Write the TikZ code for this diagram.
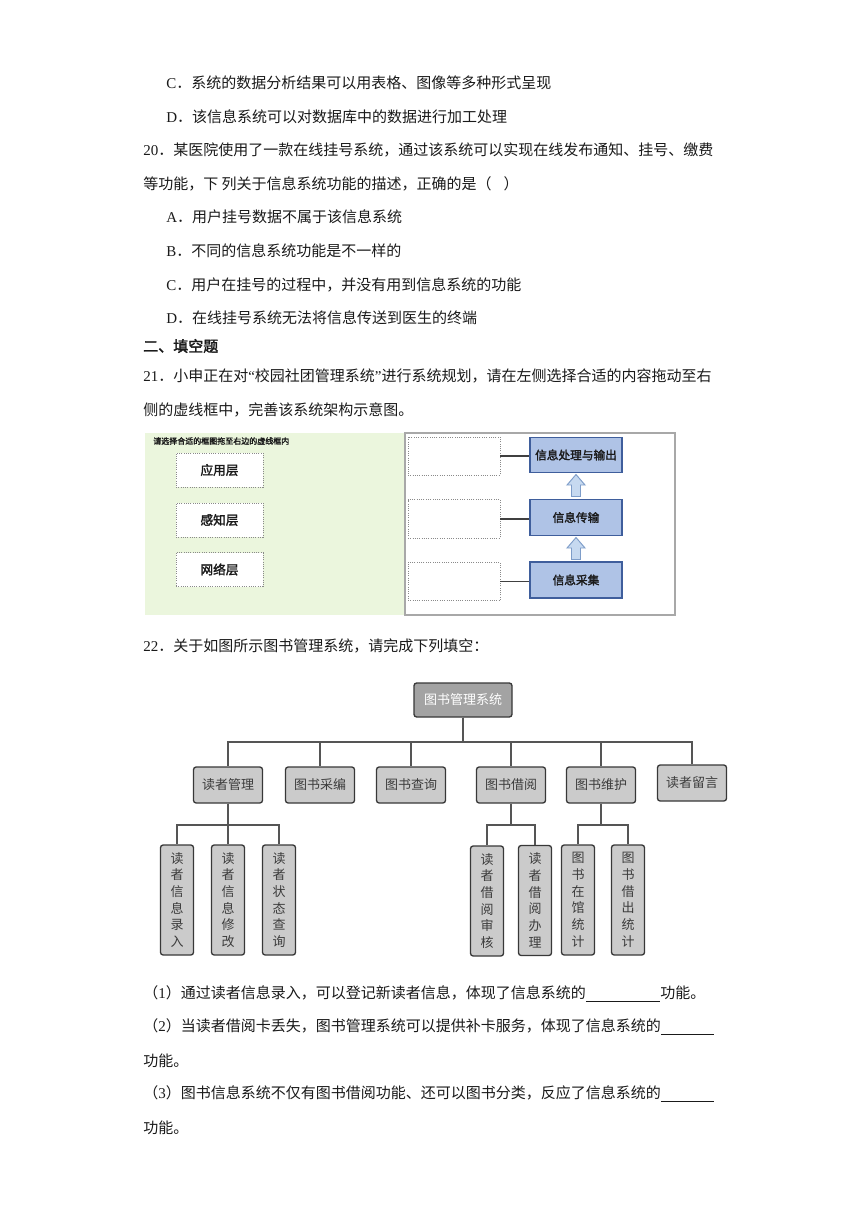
\documentclass[tikz,border=0pt]{standalone}
\usepackage{fontspec}
\setmainfont{Noto Sans CJK SC}[AutoFakeBold=2]
\newfontfamily\latn{Liberation Serif}
\definecolor{txt}{HTML}{1A1A1A}
\definecolor{greenbg}{HTML}{EBF6DD}
\definecolor{panelborder}{HTML}{A8A8A8}
\definecolor{bluefill}{HTML}{AFC3E6}
\definecolor{blueborder}{HTML}{3F5E9C}
\definecolor{arrowfill}{HTML}{C6D9F0}
\definecolor{arrowborder}{HTML}{7E9DC9}
\definecolor{rootfill}{HTML}{A3A3A3}
\definecolor{nodefill}{HTML}{CBCBCB}
\definecolor{nodeborder}{HTML}{383838}
\definecolor{connline}{HTML}{555555}
\definecolor{dotline}{HTML}{8A8A8A}
\tikzset{
  txtline/.style={anchor=west, inner sep=0pt, text=txt, font=\fontsize{11.25pt}{13pt}\selectfont},
  dotbox/.style={draw=dotline, densely dotted, line width=0.7pt, fill=white, inner sep=0pt, font=\fontsize{9.5pt}{11pt}\selectfont\bfseries, text=txt},
  bluebox/.style={draw=blueborder, line width=1pt, fill=bluefill, inner sep=0pt, minimum width=69pt, font=\fontsize{8.75pt}{11pt}\selectfont\bfseries, text=txt},
  blockarrow/.style={draw=arrowborder, fill=arrowfill, line width=0.7pt, line join=miter},
  rootbox/.style={draw=nodeborder, line width=1pt, rounded corners=2pt, fill=rootfill, text=white, minimum width=73.5pt, minimum height=25.5pt, inner sep=0pt, font=\fontsize{9.75pt}{11pt}\selectfont},
  lonebox/.style={draw=nodeborder, line width=1pt, rounded corners=2pt, fill=nodefill, text=txt!85, minimum width=51.75pt, minimum height=27pt, inner sep=0pt, font=\fontsize{9.75pt}{11pt}\selectfont},
  ltwobox/.style={draw=nodeborder, line width=1pt, rounded corners=2pt, fill=nodefill, text=txt!85, minimum width=24.75pt, minimum height=82.5pt, inner sep=0pt, align=center, font=\fontsize{9.75pt}{12.5pt}\selectfont},
  conn/.style={draw=connline, line width=1pt},
  link/.style={draw=black!75, line width=1pt}
}
\begin{document}
\begin{tikzpicture}[x=0.75pt,y=-0.75pt]
\useasboundingbox (0,0) rectangle (860,1216);
\fill[white] (0,0) rectangle (860,1216);

% ---- question text ----
\node[txtline] (t1) at (166,83) {{\latn C}．系统的数据分析结果可以用表格、图像等多种形式呈现};
\node[txtline] (t2) at (166,117) {{\latn D}．该信息系统可以对数据库中的数据进行加工处理};
\node[txtline] (t3) at (143,150) {{\latn 20}．某医院使用了一款在线挂号系统，通过该系统可以实现在线发布通知、挂号、缴费};
\node[txtline] (t4) at (143,184) {等功能，下\ 列关于信息系统功能的描述，正确的是（\hspace{0.8em}）};
\node[txtline] (t5) at (166,217) {{\latn A}．用户挂号数据不属于该信息系统};
\node[txtline] (t6) at (166,251) {{\latn B}．不同的信息系统功能是不一样的};
\node[txtline] (t7) at (166,285) {{\latn C}．用户在挂号的过程中，并没有用到信息系统的功能};
\node[txtline] (t8) at (166,318) {{\latn D}．在线挂号系统无法将信息传送到医生的终端};
\node[txtline, font=\fontsize{11.25pt}{13pt}\selectfont\bfseries] (t9) at (143,346) {二、填空题};
\node[txtline] (t10) at (143,376) {{\latn 21}．小申正在对{\latn “}校园社团管理系统{\latn ”}进行系统规划，请在左侧选择合适的内容拖动至右};
\node[txtline] (t11) at (143,410) {侧的虚线框中，完善该系统架构示意图。};

% ---- figure 1 ----
\fill[greenbg] (145,433) rectangle (405,615);
\draw[panelborder, fill=white, line width=0.8pt] (405,433) rectangle (675,615);
\node[anchor=west, inner sep=0pt, font=\fontsize{6pt}{7pt}\selectfont\bfseries, text=txt] (hdr) at (153,441) {请选择合适的框图拖至右边的虚线框内};
\node[dotbox, minimum width=65.25pt, minimum height=25.5pt] (s1) at (219.5,470) {应用层};
\node[dotbox, minimum width=65.25pt, minimum height=25.5pt] (s2) at (219.5,520) {感知层};
\node[dotbox, minimum width=65.25pt, minimum height=25.5pt] (s3) at (219.5,569.5) {网络层};

\node[bluebox, minimum height=26.25pt] (b1) at (576,455) {信息处理与输出};
\node[bluebox, minimum height=27pt] (b2) at (576,517.5) {信息传输};
\node[bluebox, minimum height=27pt] (b3) at (576,580) {信息采集};
\node[dotbox, minimum width=69pt, minimum height=28.5pt] (e1) at (454,456) {};
\node[dotbox, minimum width=69pt, minimum height=29pt] (e2) at (454,519) {};
\node[dotbox, minimum width=69pt, minimum height=29pt] (e3) at (454,581.5) {};
\draw[link] (e1.east) -- (e1.east -| b1.west);
\draw[link] (e2.east) -- (e2.east -| b2.west);
\draw[link] (e3.east) -- (e3.east -| b3.west);
\draw[blockarrow] (576,474.5) -- (585,485) -- (580.5,485) -- (580.5,496.5) -- (571.5,496.5) -- (571.5,485) -- (567,485) -- cycle;
\draw[blockarrow] (576,537.5) -- (585,548) -- (580.5,548) -- (580.5,559.5) -- (571.5,559.5) -- (571.5,548) -- (567,548) -- cycle;

% ---- question 22 ----
\node[txtline] (t12) at (143,646) {{\latn 22}．关于如图所示图书管理系统，请完成下列填空：};

% ---- tree ----
\node[rootbox] (root) at (463,700) {图书管理系统};
\coordinate (busa) at (463,742);
\node[lonebox] (a1) at (228,785) {读者管理};
\node[lonebox] (a2) at (320,785) {图书采编};
\node[lonebox] (a3) at (411,785) {图书查询};
\node[lonebox] (a4) at (511,785) {图书借阅};
\node[lonebox] (a5) at (601,785) {图书维护};
\node[lonebox] (a6) at (692,783) {读者留言};
\foreach \c in {a1,a2,a3,a4,a5,a6}{
  \draw[conn] (root.south) -- (busa) -| (\c.north);
}
\coordinate (busb) at (228,825);
\coordinate (busc) at (511,825);
\coordinate (busd) at (601,825);
\node[ltwobox] (c1) at (177,900) {读\\者\\信\\息\\录\\入};
\node[ltwobox] (c2) at (228,900) {读\\者\\信\\息\\修\\改};
\node[ltwobox] (c3) at (279,900) {读\\者\\状\\态\\查\\询};
\node[ltwobox] (d1) at (487,901) {读\\者\\借\\阅\\审\\核};
\node[ltwobox] (d2) at (535,900.5) {读\\者\\借\\阅\\办\\理};
\node[ltwobox] (f1) at (578,900) {图\\书\\在\\馆\\统\\计};
\node[ltwobox] (f2) at (628,900) {图\\书\\借\\出\\统\\计};
\foreach \c in {c1,c2,c3}{ \draw[conn] (a1.south) -- (busb) -| (\c.north); }
\foreach \c in {d1,d2}{ \draw[conn] (a4.south) -- (busc) -| (\c.north); }
\foreach \c in {f1,f2}{ \draw[conn] (a5.south) -- (busd) -| (\c.north); }

% ---- fill-in lines ----
\node[txtline] (q1) at (143,994) {（{\latn 1}）通过读者信息录入，可以登记新读者信息，体现了信息系统的\rule[-0.2em]{56pt}{0.5pt}功能。};
\node[txtline] (q2) at (143,1027) {（{\latn 2}）当读者借阅卡丢失，图书管理系统可以提供补卡服务，体现了信息系统的\rule[-0.2em]{40pt}{0.5pt}};
\node[txtline] (q2b) at (143,1061) {功能。};
\node[txtline] (q3) at (143,1094) {（{\latn 3}）图书信息系统不仅有图书借阅功能、还可以图书分类，反应了信息系统的\rule[-0.2em]{40pt}{0.5pt}};
\node[txtline] (q3b) at (143,1128) {功能。};
\end{tikzpicture}
\end{document}
